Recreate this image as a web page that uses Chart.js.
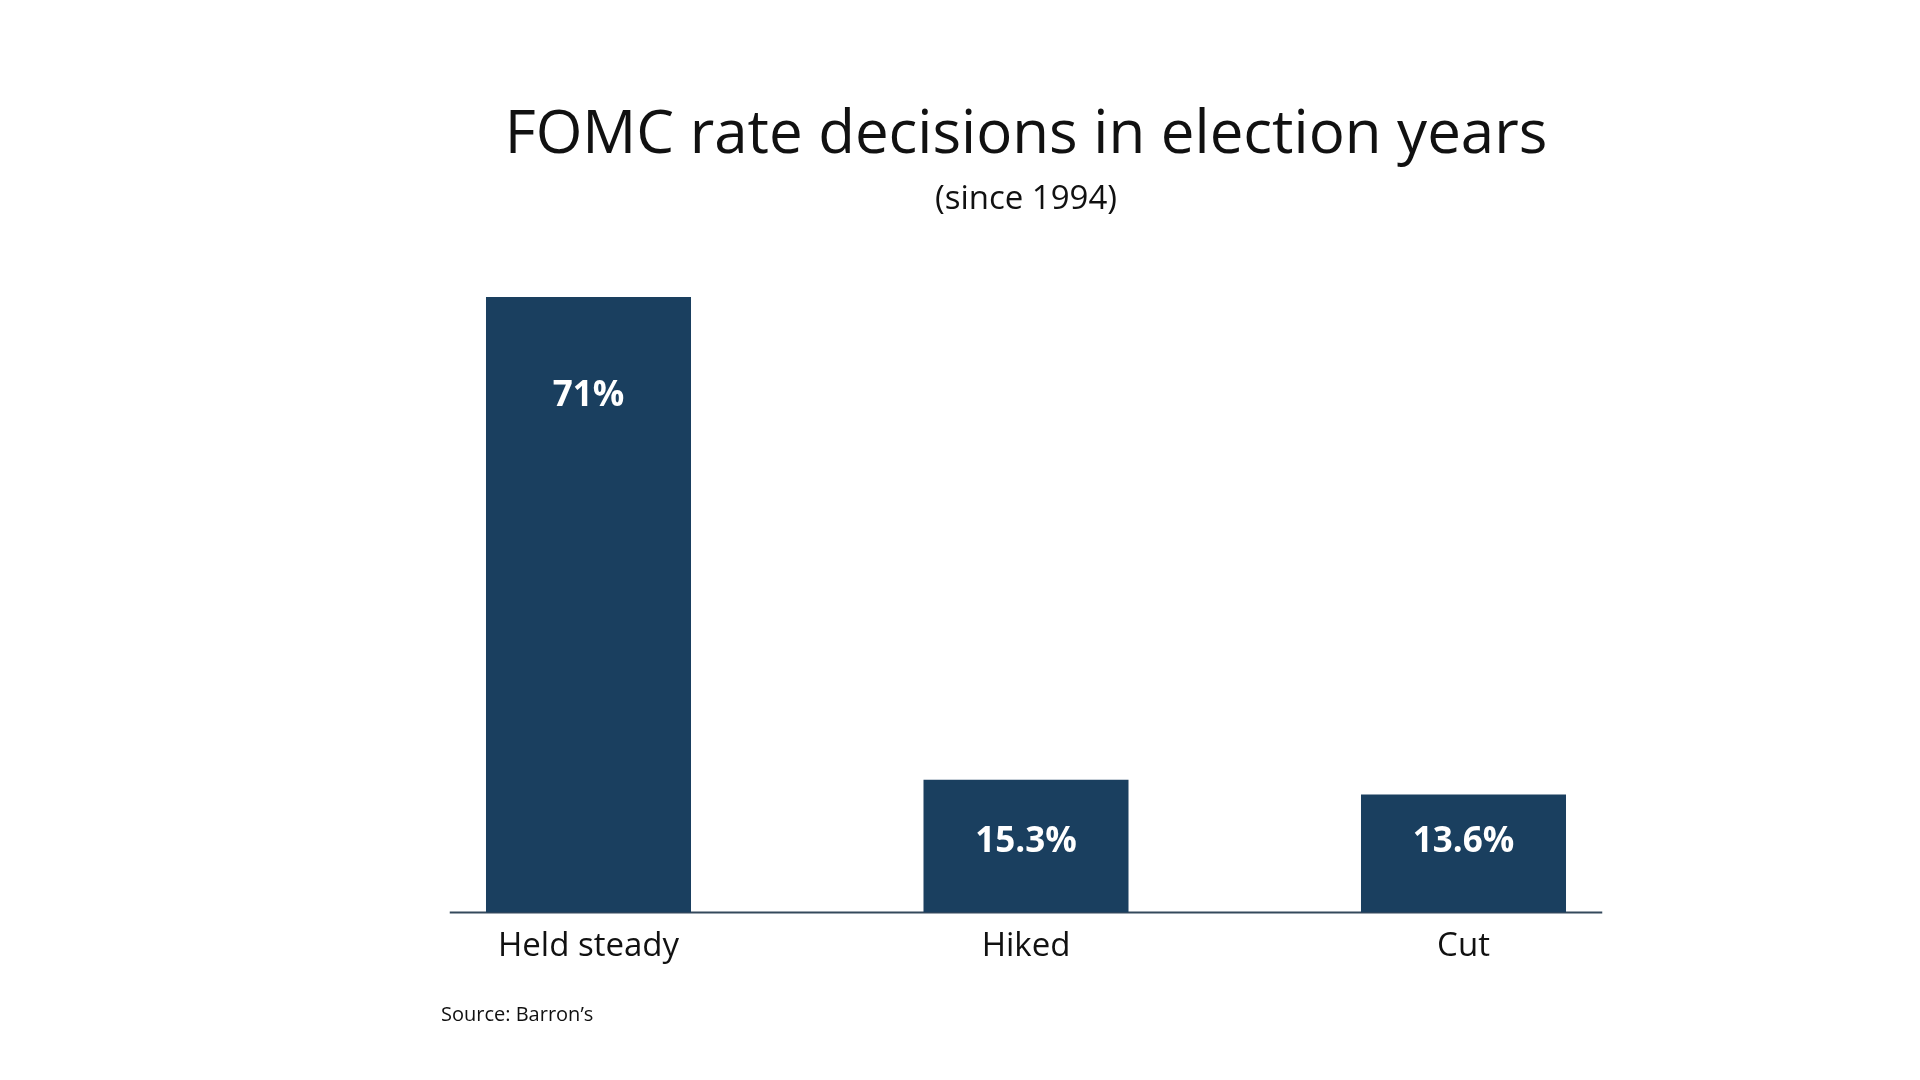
<!DOCTYPE html>
<html>
<head>
<meta charset="utf-8">
<script src="https://cdn.jsdelivr.net/npm/chart.js@4.4.1/dist/chart.umd.min.js"></script>
<style>
  html, body { margin: 0; padding: 0; background: #ffffff; }
  #wrap { width: 1920px; height: 1080px; position: relative; }
</style>
</head>
<body>
<div id="wrap"><canvas id="c" width="1920" height="1080"></canvas></div>
<script>
const categories = ["Held steady", "Hiked", "Cut"];
const shares = [71, 15.3, 13.6];
const titleText = "FOMC rate decisions in election years";
const subtitleText = "(since 1994)";
const sourceText = "Source: Barron\u2019s";

const BAR_COLOR = "#1a3f5f";
const FONT = "'Open Sans', 'Noto Sans', sans-serif";

const baselinePlugin = {
  id: "baseline",
  beforeDatasetsDraw(chart) {
    const { ctx, chartArea } = chart;
    const inset = 80;
    ctx.save();
    ctx.strokeStyle = "#34495c";
    ctx.lineWidth = 2;
    ctx.beginPath();
    ctx.moveTo(chartArea.left + inset, chartArea.bottom);
    ctx.lineTo(chartArea.right - inset, chartArea.bottom);
    ctx.stroke();
    ctx.restore();
  }
};

const valueLabelPlugin = {
  id: "valueLabels",
  afterDatasetsDraw(chart) {
    const { ctx } = chart;
    const meta = chart.getDatasetMeta(0);
    ctx.save();
    ctx.fillStyle = "#ffffff";
    ctx.font = "bold 35px " + FONT;
    ctx.textAlign = "center";
    ctx.textBaseline = "middle";
    meta.data.forEach((bar, i) => {
      const y = Math.min(bar.y + 99, bar.base - 70);
      ctx.fillText(shares[i] + "%", bar.x, y);
    });
    ctx.restore();
  }
};

const sourcePlugin = {
  id: "sourceNote",
  afterDraw(chart) {
    const { ctx } = chart;
    ctx.save();
    ctx.fillStyle = "#111111";
    ctx.font = "20px " + FONT;
    ctx.textAlign = "left";
    ctx.textBaseline = "alphabetic";
    ctx.fillText(sourceText, 441, 1021);
    ctx.restore();
  }
};

new Chart(document.getElementById("c"), {
  type: "bar",
  data: {
    labels: categories,
    datasets: [{
      data: shares,
      backgroundColor: BAR_COLOR,
      borderWidth: 0,
      barPercentage: 0.4686,
      categoryPercentage: 1.0
    }]
  },
  options: {
    responsive: false,
    animation: false,
    devicePixelRatio: 1,
    layout: { padding: { top: 0, left: 369.75, right: 237.75, bottom: 100 } },
    plugins: {
      legend: { display: false },
      tooltip: { enabled: false },
      title: {
        display: true,
        text: titleText,
        color: "#111111",
        font: { family: FONT, size: 60, weight: "normal", lineHeight: 1.2 },
        padding: { top: 100, bottom: 8 }
      },
      subtitle: {
        display: true,
        text: subtitleText,
        color: "#111111",
        font: { family: FONT, size: 33, weight: "normal", lineHeight: 1.2 },
        padding: { top: 0, bottom: 77.4 }
      }
    },
    scales: {
      x: {
        grid: { display: false, drawTicks: false },
        border: { display: false },
        ticks: {
          color: "#111111",
          padding: 14,
          font: { family: FONT, size: 33 }
        }
      },
      y: {
        display: false,
        min: 0,
        max: 71
      }
    }
  },
  plugins: [baselinePlugin, valueLabelPlugin, sourcePlugin]
});
</script>
</body>
</html>
